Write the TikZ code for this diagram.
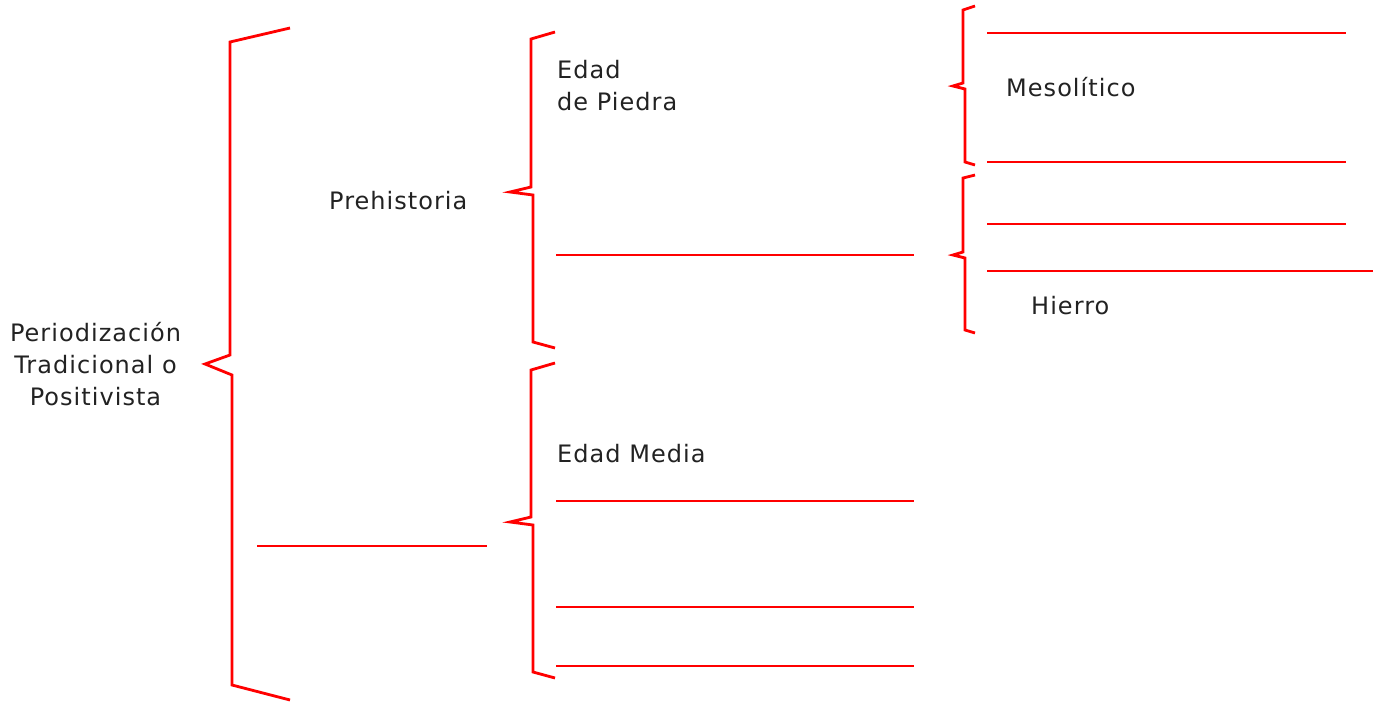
\documentclass[tikz,border=0pt]{standalone}
\usepackage{fontspec}
\setmainfont{DejaVu Sans}[LetterSpace=4.3]
\definecolor{txt}{HTML}{222222}
\begin{document}
\begin{tikzpicture}[x=1pt,y=-1pt,
  brace/.style={red, line width=2.8pt, line join=miter},
  blank/.style={red, line width=2.6pt},
  lbl/.style={inner sep=0pt, text=txt, font=\fontsize{24}{32}\selectfont}]
\useasboundingbox (0,0) rectangle (1379,702);
% braces
\draw[brace] (290,28) -- (230,42) -- (230,355) -- (205,364) -- (232,375) -- (232,685) -- (290,700);
\draw[brace] (555,32) -- (531,39) -- (531,187) -- (510,192) -- (533,195) -- (533,342) -- (555,348);
\draw[brace] (555,363) -- (531,370) -- (531,517) -- (510,522) -- (533,525) -- (533,672) -- (555,678);
\draw[brace] (975,6) -- (963,10) -- (963,83) -- (953,86) -- (965,89) -- (965,162) -- (975,165);
\draw[brace] (975,175) -- (963,178) -- (963,252) -- (953,255) -- (965,258) -- (965,330) -- (975,333);
% blanks
\draw[blank] (987,33) -- (1346,33);
\draw[blank] (987,162) -- (1346,162);
\draw[blank] (987,224) -- (1346,224);
\draw[blank] (987,271) -- (1373,271);
\draw[blank] (556,255) -- (914,255);
\draw[blank] (556,501) -- (914,501);
\draw[blank] (556,607) -- (914,607);
\draw[blank] (556,666) -- (914,666);
\draw[blank] (257,546) -- (487,546);
% labels
\node[lbl, align=center, anchor=center] (root) at (95.5,364.5) {Periodización\\Tradicional o\\Positivista};
\node[lbl, anchor=base west] (pre) at (329,209) {Prehistoria};
\node[lbl, anchor=base west] (edad1) at (557,78) {Edad};
\node[lbl, anchor=base west] (edad2) at (557,110) {de Piedra};
\node[lbl, anchor=base west] (meso) at (1006,96) {Mesolítico};
\node[lbl, anchor=base west] (hierro) at (1031,314) {Hierro};
\node[lbl, anchor=base west] (media) at (557,462) {Edad Media};
\end{tikzpicture}
\end{document}
